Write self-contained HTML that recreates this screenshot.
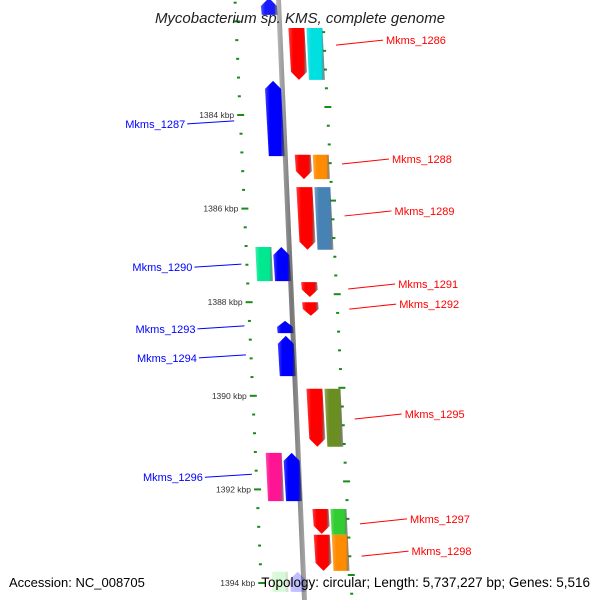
<!DOCTYPE html>
<html><head><meta charset="utf-8"><style>
html,body{margin:0;padding:0;background:#fff}
svg{display:block}
text{font-family:"Liberation Sans","DejaVu Sans",sans-serif}
</style></head><body>
<svg id="chart" width="600" height="600" viewBox="0 0 600 600">
<defs>
<linearGradient id="bb" x1="0" x2="1" y1="0" y2="0"><stop offset="0" stop-color="#bbb"/><stop offset="0.5" stop-color="#777"/><stop offset="1" stop-color="#aaa"/></linearGradient>
</defs>
</svg>
<script>
// data (kbp positions)
const geneNames = ["Mkms_top","Mkms_1286","Mkms_1286b","Mkms_1287","Mkms_1288","Mkms_1288b","Mkms_1289","Mkms_1289b","Mkms_1290","Mkms_1290b","Mkms_1291","Mkms_1292","Mkms_1293","Mkms_1294","Mkms_1295","Mkms_1295b","Mkms_1296","Mkms_1296b","Mkms_1297","Mkms_1297b","Mkms_1298","Mkms_1298b","Mkms_bot","Mkms_botb"];
const geneStart = [1381.5,1382.14,1382.14,1383.27,1384.85,1384.85,1385.54,1385.54,1386.82,1386.82,1387.57,1388.0,1388.4,1388.72,1389.85,1389.85,1391.22,1391.22,1392.42,1392.42,1392.97,1392.97,1393.76,1393.76];
const geneEnd   = [1381.86,1383.25,1383.25,1384.88,1385.37,1385.37,1386.88,1386.88,1387.55,1387.55,1387.89,1388.29,1388.66,1389.58,1391.09,1391.09,1392.25,1392.25,1392.95,1392.97,1393.74,1393.74,1394.19,1394.19];
const geneStrand= [-1,1,0,-1,1,0,1,0,0,-1,1,1,-1,-1,1,0,0,-1,1,0,1,0,0,-1];
const geneLane  = [-1,1,2,-1,1,2,1,2,-2,-1,1,1,-1,-1,1,2,-2,-1,1,2,1,2,-2,-1];
const geneColor = ["#0000ff","#ff0000","#00e0e0","#0000ff","#ff0000","#ff8c00","#ff0000","#4682b4","#00e890","#0000ff","#ff0000","#ff0000","#0000ff","#0000ff","#ff0000","#6b8e23","#ff1493","#0000ff","#ff0000","#32cd32","#ff0000","#ff8c00","#90ee90","#0000ff"];
const geneOpacity=[0.9,1,1,1,1,1,1,1,1,1,1,1,1,1,1,1,1,1,1,1,1,1,0.35,0.25];
const labelText = ["Mkms_1286","Mkms_1287","Mkms_1288","Mkms_1289","Mkms_1290","Mkms_1291","Mkms_1292","Mkms_1293","Mkms_1294","Mkms_1295","Mkms_1296","Mkms_1297","Mkms_1298"];
const labelKbp  = [1382.40,1384.19,1384.94,1386.05,1387.25,1387.61,1388.04,1388.57,1389.19,1390.39,1391.74,1392.63,1393.32];
const labelSide = [1,-1,1,1,-1,1,1,-1,-1,1,-1,1,1];
const tickKbp = [];
for(let i=0;i<33;i++) tickKbp.push(+(1381.6+i*0.4).toFixed(1));
const majorLabels = [1384,1386,1388,1390,1392,1394];

const svg=document.getElementById('chart');
const NS='http://www.w3.org/2000/svg';
const Y=k=>115+(k-1384)*46.8;
const laneX=(lane,y)=>{const b=261+0.05*y; return lane<0? b+(lane+1)*18 : b+26+(lane-1)*18;};
function mk(t,a,p){const e=document.createElementNS(NS,t);for(const k in a)e.setAttribute(k,a[k]);(p||svg).appendChild(e);return e;}

// backbone
const bb=mk('polygon',{points:`276,0 281,0 307,600 302,600`,fill:'url(#bb)'});



// ticks
tickKbp.forEach((k,i)=>{
  const y=Y(k); const major=Math.abs(k-Math.round(k))<0.01 && Math.round(k)%2===0;
  const xl=235+0.045*y;
  const t=mk('rect',{x:major?xl-3:xl-1.5,y:y-1,width:major?7:3,height:2,fill:'#1a8a1a'});
  
  
  const yr=y-8, xr=322+0.05*yr;
  if(yr>25){const t2=mk('rect',{x:major?xr-3:xr-1.5,y:yr-1,width:major?7:3,height:2,fill:'#1a8a1a'});
  
  }
  if(major && majorLabels.includes(Math.round(k))){
    const tx=mk('text',{x:xl-6,y:y+3,'text-anchor':'end','font-size':'8.5',fill:'#333'});
    tx.textContent=Math.round(k)+' kbp';
    
    
  }
});

// genes
geneNames.forEach((n,i)=>{
  const y0=Y(geneStart[i]), y1=Y(geneEnd[i]), L=geneLane[i], w=16, s=geneStrand[i];
  const xa=laneX(L,y0), xb=laneX(L,y1);
  const gid='g'+i;
  const g=mk('linearGradient',{id:gid,x1:0,x2:1,y1:0,y2:0},svg.querySelector('defs'));
  mk('stop',{offset:0,'stop-color':geneColor[i],'stop-opacity':0.75},g);
  mk('stop',{offset:0.25,'stop-color':geneColor[i]},g);
  mk('stop',{offset:0.8,'stop-color':geneColor[i]},g);
  mk('stop',{offset:1,'stop-color':'#000','stop-opacity':0.35},g);
  const h=Math.min(8,(y1-y0)/2);
  let pts;
  if(s>0) pts=`${xa},${y0} ${xa+w},${y0} ${xb+w},${y1-h} ${xb+w/2},${y1} ${xb},${y1-h}`;
  else if(s<0) pts=`${xa+w/2},${y0} ${xa+w},${y0+h} ${xb+w},${y1} ${xb},${y1} ${xa},${y0+h}`;
  else pts=`${xa},${y0} ${xa+w},${y0} ${xb+w},${y1} ${xb},${y1}`;
  const p=mk('polygon',{points:pts,fill:`url(#${gid})`,opacity:geneOpacity[i]});
  
  
});

// labels
labelText.forEach((t,i)=>{
  const y=Y(labelKbp[i]);
  if(labelSide[i]>0){
    const x0=336+0.05*(y-40);
    const xt=386+0.05*(y-40);
    const l=mk('line',{x1:x0,y1:y+5,x2:xt-3,y2:y,stroke:'#ff0000','stroke-width':1});
    
    
    const tx=mk('text',{x:xt,y:y+4,'font-size':'11',fill:'#ff0000'});tx.textContent=t;
    
    
  } else {
    const x1=234+0.05*(y-120);
    const l=mk('line',{x1:x1,y1:y-3,x2:x1-47,y2:y,stroke:'#0000ff','stroke-width':1});
    
    
    const tx=mk('text',{x:x1-49,y:y+4,'font-size':'11','text-anchor':'end',fill:'#0000ff'});tx.textContent=t;
    
    
  }
});

// title & footer
const ti=mk('text',{x:300,y:23,'text-anchor':'middle','font-size':'15','font-style':'italic',fill:'#222'});
ti.textContent='Mycobacterium sp. KMS, complete genome';


const f1=mk('text',{x:9,y:587,'font-size':'13',fill:'#000'});f1.textContent='Accession: NC_008705';


const f2=mk('text',{x:590,y:587,'font-size':'13.5','text-anchor':'end',fill:'#000'});f2.textContent='Topology: circular; Length: 5,737,227 bp; Genes: 5,516';


</script>
</body></html>
